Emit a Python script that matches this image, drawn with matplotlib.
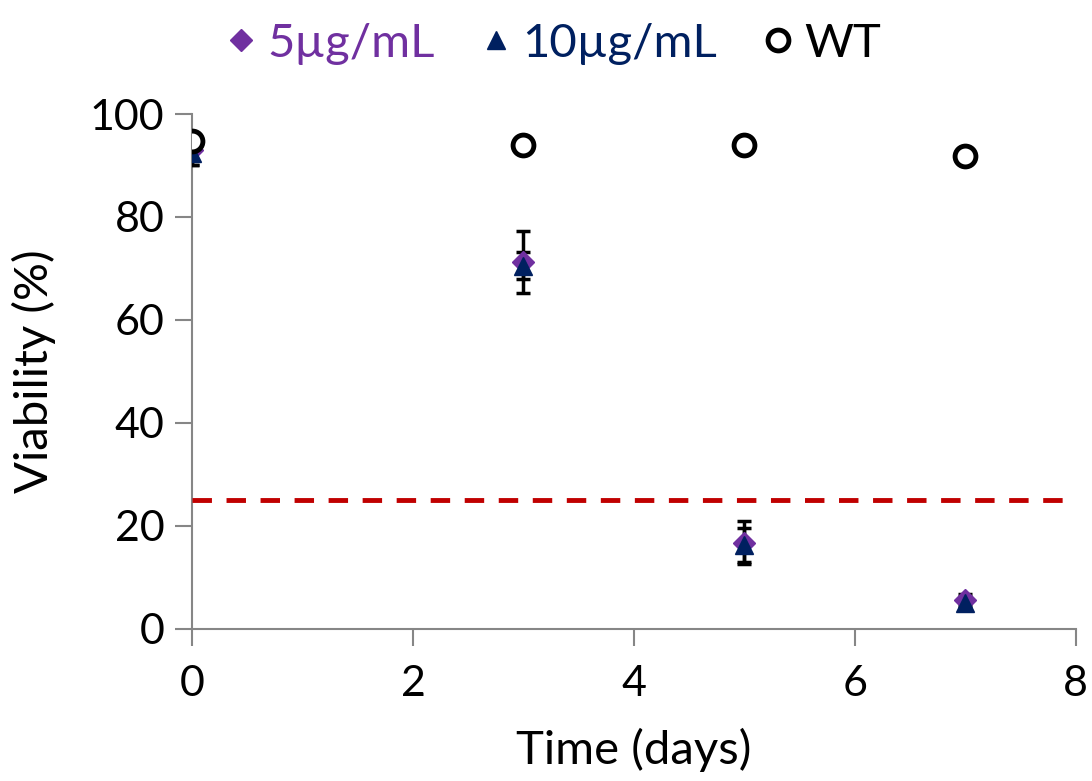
import matplotlib.pyplot as plt

plt.rcParams['font.family'] = ['Lato', 'DejaVu Sans']

days = [0, 3, 5, 7]
low_dose = [93.0, 71.3, 16.7, 5.6]
low_err = [3.0, 6.0, 4.2, 1.2]
high_dose = [92.5, 70.5, 16.3, 4.9]
high_err = [2.5, 2.6, 3.3, 1.0]
wt = [94.8, 94.0, 94.0, 91.8]
threshold = 25

purple = '#7030a0'
navy = '#002060'
axis_grey = '#868686'

fig = plt.figure(figsize=(10.92, 7.81), dpi=100)
ax = fig.add_axes([0.176, 0.195, 0.809, 0.659])

ax.axhline(threshold, color='#c00000', lw=3.5, ls=(0, (4, 3)), zorder=1)

ax.errorbar(days, low_dose, yerr=low_err, fmt='none', ecolor='black',
            elinewidth=2.5, capsize=5, capthick=2.5, zorder=2)
ax.errorbar(days, high_dose, yerr=high_err, fmt='none', ecolor='black',
            elinewidth=2.5, capsize=5, capthick=2.5, zorder=2)
ax.plot(days, low_dose, 'D', color=purple, ms=11, ls='none',
        label='5µg/mL', zorder=3)
ax.plot(days, high_dose, '^', color=navy, ms=13, ls='none',
        label='10µg/mL', zorder=4)
ax.plot(days, wt, 'o', mfc='white', mec='black', mew=3.5, ms=15,
        ls='none', label='WT', zorder=5)

ax.set_xlim(0, 8)
ax.set_ylim(0, 100)
ax.set_xticks(range(0, 9, 2))
ax.set_yticks(range(0, 101, 20))
ax.set_xlabel('Time (days)', fontsize=34, labelpad=18)
ax.set_ylabel('Viability (%)', fontsize=34, labelpad=24)
ax.tick_params(axis='both', labelsize=31, color=axis_grey, width=1.5,
               length=12, direction='out', pad=8)
ax.tick_params(axis='x', pad=14)

for side in ['top', 'right']:
    ax.spines[side].set_visible(False)
for side in ['left', 'bottom']:
    ax.spines[side].set_color(axis_grey)
    ax.spines[side].set_linewidth(1.5)
ax.spines['left'].set_zorder(0)

leg = fig.legend(loc='upper center', bbox_to_anchor=(0.505, 1.025), ncol=3,
                 frameon=False, fontsize=34, handletextpad=0.15,
                 columnspacing=0.9, handlelength=0.8, markerscale=1.0)
for text, c in zip(leg.get_texts(), [purple, navy, 'black']):
    text.set_color(c)

plt.savefig('out.png', dpi=100)
